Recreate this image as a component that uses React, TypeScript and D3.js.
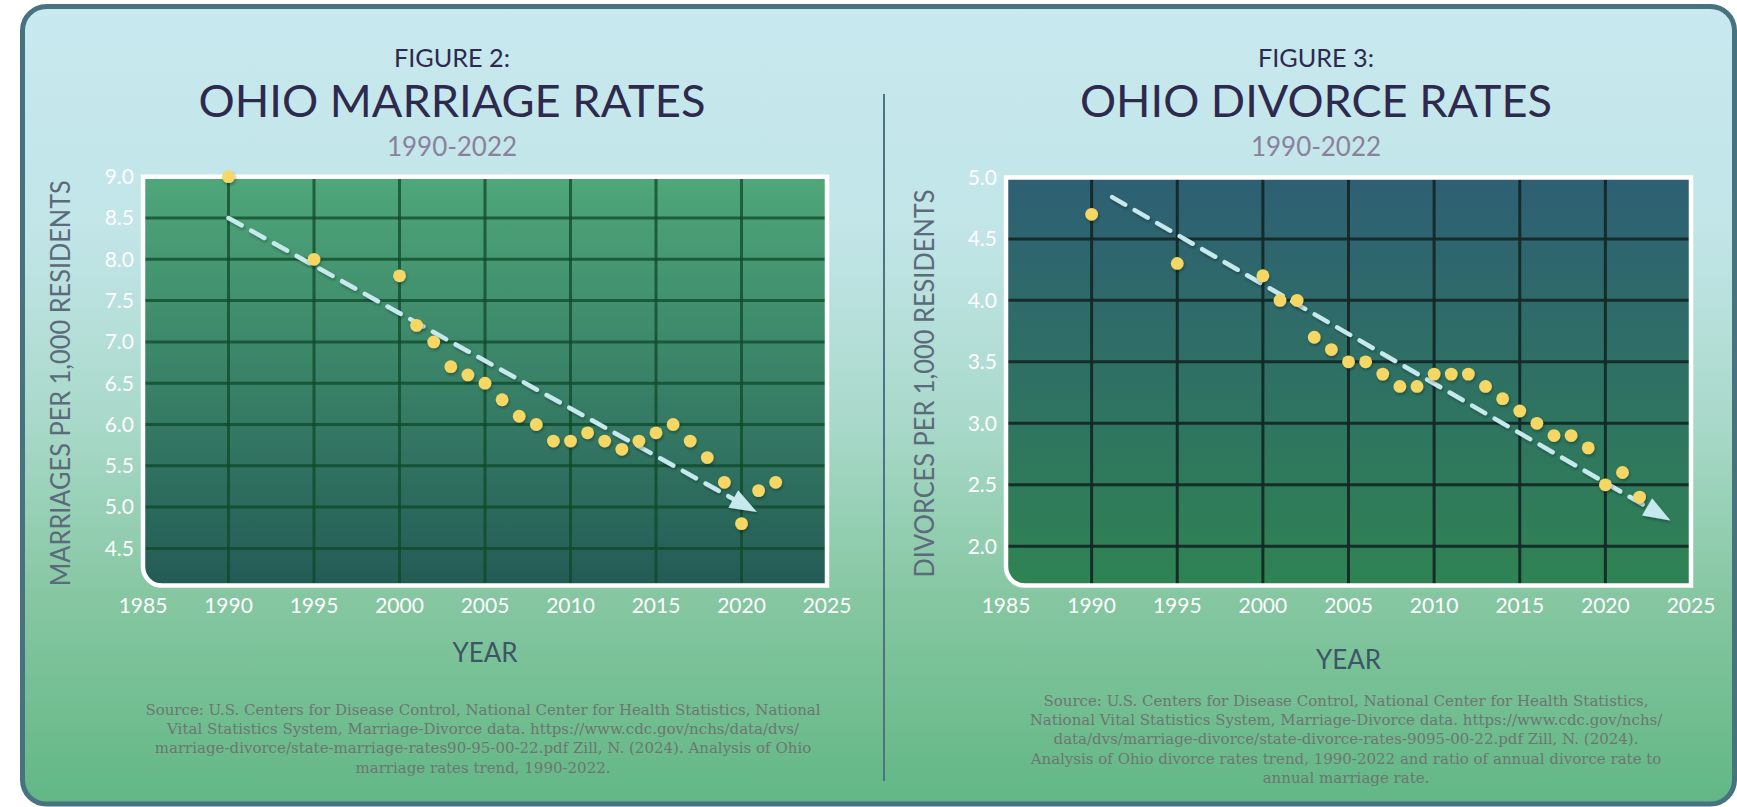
import React from 'react'
import * as d3 from 'd3'

// ---- data ----
const marriageYears = [1990, 1995, 2000, 2001, 2002, 2003, 2004, 2005, 2006, 2007, 2008, 2009, 2010, 2011, 2012, 2013, 2014, 2015, 2016, 2017, 2018, 2019, 2020, 2021, 2022]
const marriageRates = [9.0, 8.0, 7.8, 7.2, 7.0, 6.7, 6.6, 6.5, 6.3, 6.1, 6.0, 5.8, 5.8, 5.9, 5.8, 5.7, 5.8, 5.9, 6.0, 5.8, 5.6, 5.3, 4.8, 5.2, 5.3]

const divorceYears = marriageYears
const divorceRates = [4.7, 4.3, 4.2, 4.0, 4.0, 3.7, 3.6, 3.5, 3.5, 3.4, 3.3, 3.3, 3.4, 3.4, 3.4, 3.3, 3.2, 3.1, 3.0, 2.9, 2.9, 2.8, 2.5, 2.6, 2.4]

// trend arrows: [start, tip] as [year, rate]
const marriageTrend: [number, number][] = [[1990, 8.5], [2020.9, 4.94]]
const divorceTrend: [number, number][] = [[1991.2, 4.84], [2023.8, 2.21]]

const yearTicks = [1985, 1990, 1995, 2000, 2005, 2010, 2015, 2020, 2025]
const marriageTicks = [4.5, 5.0, 5.5, 6.0, 6.5, 7.0, 7.5, 8.0, 8.5, 9.0]
const divorceTicks = [2.0, 2.5, 3.0, 3.5, 4.0, 4.5, 5.0]

const marriageSource = [
  'Source: U.S. Centers for Disease Control, National Center for Health Statistics, National',
  'Vital Statistics System, Marriage-Divorce data. https://www.cdc.gov/nchs/data/dvs/',
  'marriage-divorce/state-marriage-rates90-95-00-22.pdf Zill, N. (2024). Analysis of Ohio',
  'marriage rates trend, 1990-2022.'
]
const divorceSource = [
  'Source: U.S. Centers for Disease Control, National Center for Health Statistics,',
  'National Vital Statistics System, Marriage-Divorce data. https://www.cdc.gov/nchs/',
  'data/dvs/marriage-divorce/state-divorce-rates-9095-00-22.pdf Zill, N. (2024).',
  'Analysis of Ohio divorce rates trend, 1990-2022 and ratio of annual divorce rate to',
  'annual marriage rate.'
]

const W = 1737
const H = 807
const SANS = 'Lato, "Open Sans", sans-serif'
const SERIF = '"DejaVu Serif", "Liberation Serif", serif'

interface PanelProps {
  id: string
  figure: string
  title: string
  titleWidth: number
  titleX: number
  yLabel: string
  yLabelLen: number
  yLabelX: number
  xLabelY: number
  xRange: [number, number]
  yDomain: [number, number]
  yRange: [number, number]
  yTicks: number[]
  years: number[]
  rates: number[]
  trend: [number, number][]
  gradTop: string
  gradBottom: string
  gridColor: string
  gridOpacity: number
  source: string[]
  sourceX: number
  sourceY: number
}

function Panel(p: PanelProps) {
  const x = d3.scaleLinear().domain([1985, 2025]).range(p.xRange)
  const y = d3.scaleLinear().domain(p.yDomain).range(p.yRange)
  const [x0, x1] = p.xRange
  const y1 = p.yRange[0]
  const y0 = p.yRange[1]
  const r = 19
  const frame = `M${x0},${y0}H${x1}V${y1}H${x0 + r}A${r},${r} 0 0 1 ${x0},${y1 - r}Z`

  // trend arrow
  const [s, e] = p.trend
  const sx = x(s[0]), sy = y(s[1]), ex = x(e[0]), ey = y(e[1])
  const len = Math.hypot(ex - sx, ey - sy)
  const ux = (ex - sx) / len, uy = (ey - sy) / len
  const head = 27, half = 10
  const bx = ex - ux * head, by = ey - uy * head
  const headPts = `${ex},${ey} ${bx - uy * half},${by + ux * half} ${bx + uy * half},${by - ux * half}`

  const gridX = yearTicks.filter(t => t > 1985 && t < 2025)
  const gridY = p.yTicks.filter(t => t < p.yDomain[1] - 0.01)
  const cx = (x0 + x1) / 2

  return (
    <g>
      <defs>
        <linearGradient id={`${p.id}-plot`} x1="0" y1="0" x2="0" y2="1">
          <stop offset="0%" stopColor={p.gradTop} />
          <stop offset="100%" stopColor={p.gradBottom} />
        </linearGradient>
        <clipPath id={`${p.id}-clip`}>
          <path d={frame} />
        </clipPath>
      </defs>

      {/* titles */}
      <text x={p.titleX} y={66.7} textAnchor="middle" fontFamily={SANS} fontSize={25} fill="#2e2a4e" textLength={116} lengthAdjust="spacingAndGlyphs">{p.figure}</text>
      <text x={p.titleX} y={117} textAnchor="middle" fontFamily={SANS} fontSize={44} fill="#2e2a4e" textLength={p.titleWidth} lengthAdjust="spacingAndGlyphs">{p.title}</text>
      <text x={p.titleX} y={156} textAnchor="middle" fontFamily={SANS} fontSize={26} fill="#8a819b" textLength={130} lengthAdjust="spacingAndGlyphs">1990-2022</text>

      {/* plot area */}
      <path d={frame} fill={`url(#${p.id}-plot)`} />
      <g clipPath={`url(#${p.id}-clip)`} stroke={p.gridColor} strokeOpacity={p.gridOpacity} strokeWidth={3}>
        {gridX.map(t => <line key={`gx${t}`} x1={x(t)} x2={x(t)} y1={y0} y2={y1} />)}
        {gridY.map(t => <line key={`gy${t}`} x1={x0} x2={x1} y1={y(t)} y2={y(t)} />)}
      </g>

      {/* trend arrow */}
      <g filter="url(#soft)">
        <line x1={sx} y1={sy} x2={bx + ux * 4} y2={by + uy * 4} stroke="#c6e9ee" strokeWidth={4.5} strokeDasharray="15 11" strokeLinecap="round" />
        <polygon points={headPts} fill="#c6e9ee" />
      </g>

      <path d={frame} fill="none" stroke="#ffffff" strokeWidth={4.5} />

      {/* points */}
      <g filter="url(#soft)">
        {p.years.map((yr, i) => (
          <circle key={yr} cx={x(yr)} cy={y(p.rates[i])} r={6.4} fill="#f6d764" />
        ))}
      </g>

      {/* axes labels */}
      {p.yTicks.map(t => (
        <text key={`yt${t}`} x={x0 - 9} y={y(t)} dy="0.35em" textAnchor="end" fontFamily={SANS} fontSize={21} fill="#ffffff">{t.toFixed(1)}</text>
      ))}
      {yearTicks.map(t => (
        <text key={`xt${t}`} x={x(t)} y={612.7} textAnchor="middle" fontFamily={SANS} fontSize={21} fill="#ffffff">{t}</text>
      ))}
      <text x={cx} y={p.xLabelY} textAnchor="middle" fontFamily={SANS} fontSize={26} fill="#3d5665">YEAR</text>
      <text transform={`translate(${p.yLabelX},${(y0 + y1) / 2 + 2}) rotate(-90)`} textAnchor="middle" dy="0.35em" fontFamily={SANS} fontSize={26} fill="#5c6b7b" textLength={p.yLabelLen} lengthAdjust="spacingAndGlyphs">{p.yLabel}</text>

      {/* source */}
      {p.source.map((line, i) => (
        <text key={i} x={p.sourceX} y={p.sourceY + i * 19.2} textAnchor="middle" fontFamily={SERIF} fontSize={15} fill="#6d7672">{line}</text>
      ))}
    </g>
  )
}

export default function App() {
  return (
    <svg width={W} height={H} style={{ position: 'absolute', left: 0, top: 0, display: 'block' }}>
      <defs>
        <linearGradient id="card-bg" x1="0" y1="0" x2="0" y2="1">
          <stop offset="0%" stopColor="#c7e9ef" />
          <stop offset="28%" stopColor="#c2e5e8" />
          <stop offset="52%" stopColor="#a9d9ca" />
          <stop offset="75%" stopColor="#84c6a0" />
          <stop offset="100%" stopColor="#62b785" />
        </linearGradient>
        <filter id="soft" x="-20%" y="-20%" width="140%" height="140%">
          <feDropShadow dx="1" dy="2" stdDeviation="1.5" floodColor="#000000" floodOpacity="0.3" />
        </filter>
      </defs>
      <rect x={0} y={0} width={W} height={H} fill="#ffffff" />
      <rect x={22.5} y={6.5} width={1712} height={797.5} rx={24} fill="url(#card-bg)" stroke="#47727f" strokeWidth={5} />

      <line x1={884} x2={884} y1={94} y2={781} stroke="#4d7282" strokeWidth={2} />

      <Panel
        id="mar"
        figure="FIGURE 2:"
        title="OHIO MARRIAGE RATES"
        titleWidth={507}
        titleX={452}
        yLabel="MARRIAGES PER 1,000 RESIDENTS"
        yLabelLen={406}
        yLabelX={61}
        xLabelY={662}
        xRange={[143, 827]}
        yDomain={[4.05, 9.0]}
        yRange={[585.6, 176.7]}
        yTicks={marriageTicks}
        years={marriageYears}
        rates={marriageRates}
        trend={marriageTrend}
        gradTop="#4fa77a"
        gradBottom="#235b55"
        gridColor="#0e4a28"
        gridOpacity={0.75}
        source={marriageSource}
        sourceX={483}
        sourceY={715}
      />
      <Panel
        id="div"
        figure="FIGURE 3:"
        title="OHIO DIVORCE RATES"
        titleWidth={472}
        titleX={1316}
        yLabel="DIVORCES PER 1,000 RESIDENTS"
        yLabelLen={388}
        yLabelX={925}
        xLabelY={669}
        xRange={[1006, 1691]}
        yDomain={[1.68, 5.0]}
        yRange={[585.6, 177.4]}
        yTicks={divorceTicks}
        years={divorceYears}
        rates={divorceRates}
        trend={divorceTrend}
        gradTop="#2e5f74"
        gradBottom="#2f8353"
        gridColor="#132725"
        gridOpacity={0.92}
        source={divorceSource}
        sourceX={1346}
        sourceY={706}
      />
    </svg>
  )
}
